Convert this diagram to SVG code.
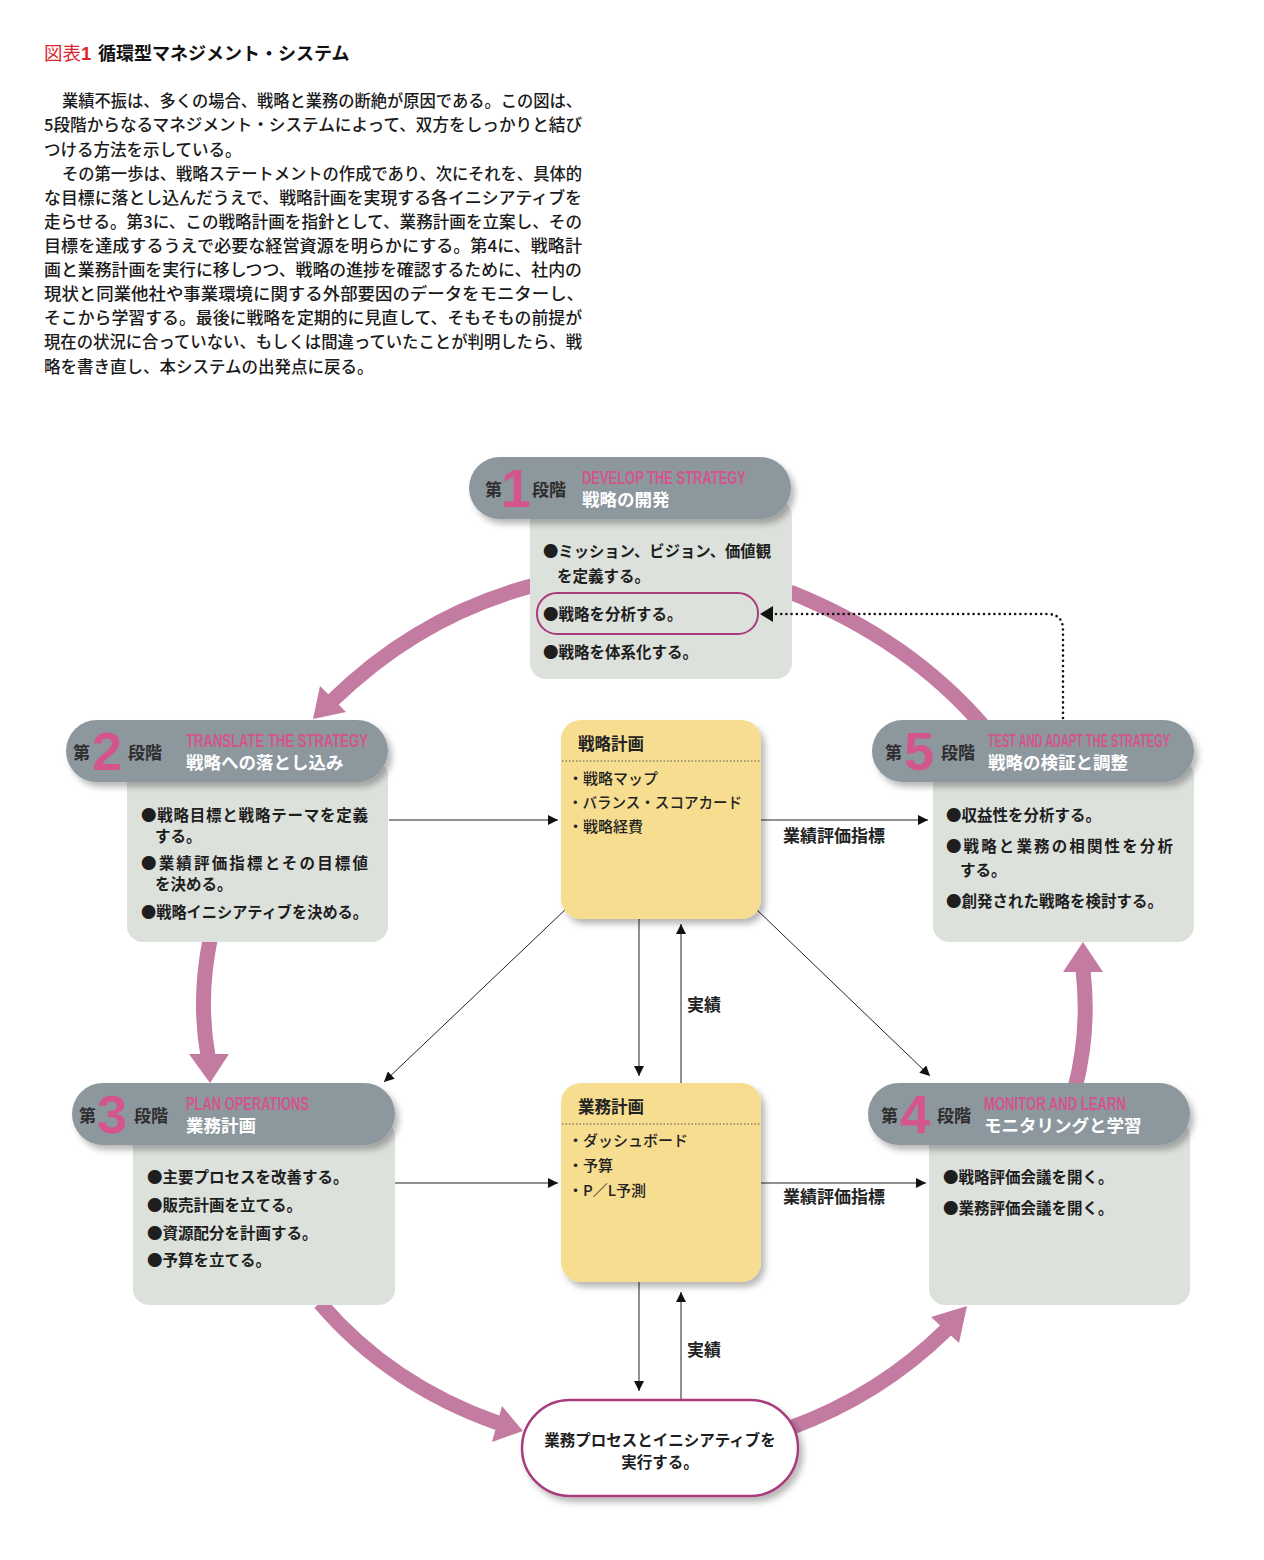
<svg xmlns="http://www.w3.org/2000/svg" width="1264" height="1560" viewBox="0 0 1264 1560">
<defs>
<filter id="sh" x="-10%" y="-15%" width="125%" height="150%"><feDropShadow dx="4" dy="5" stdDeviation="3" flood-color="#000" flood-opacity="0.28"/></filter>
<marker id="ah" viewBox="0 0 10 10" refX="10" refY="5" markerWidth="11" markerHeight="10" markerUnits="userSpaceOnUse" orient="auto"><path d="M0,0 L10,5 L0,10 z" fill="#111"/></marker>
<style>
text{font-family:"Noto Sans CJK JP","Liberation Sans",sans-serif}
.para{font-size:16.5px;font-weight:500;fill:#1a1a1a}
.hdr{fill:#8d979e;filter:url(#sh)}
.body{fill:#dde1dc}
.dai{font-size:17px;font-weight:bold;fill:#2e2e2e}
.num{font-family:"Liberation Sans",Arial,sans-serif;font-size:54px;font-weight:bold;fill:#d4558c}
.en{font-family:"Liberation Sans",Arial,sans-serif;font-size:17.5px;font-weight:bold;fill:#d4558c}
.jp{font-size:17.5px;font-weight:bold;fill:#ffffff}
.bt{font-size:15.5px;font-weight:bold;fill:#1e1e1e}
.ybox{fill:#f6dd8f;filter:url(#sh)}
.yt{font-size:16.5px;font-weight:bold;fill:#222}
.yi{font-size:15px;font-weight:500;fill:#222}
.lbl{font-size:17px;font-weight:bold;fill:#222}
.ln{stroke:#222;stroke-width:1;fill:none}
.arc{stroke:#c47ba2;stroke-width:15;fill:none}
.head{fill:#c47ba2}
</style>
</defs>
<rect width="1264" height="1560" fill="#ffffff"/>

<g id="title">
<text x="44" y="60" font-size="18.5" fill="#d8262e">図表<tspan font-weight="bold" font-family="Liberation Sans, sans-serif">1</tspan></text>
<text x="98" y="60" font-size="18" font-weight="bold" fill="#111">循環型マネジメント・システム</text>
</g>

<g id="paragraph">
<text class="para" x="62" y="107" textLength="520" lengthAdjust="spacingAndGlyphs">業績不振は、多くの場合、戦略と業務の断絶が原因である。この図は、</text>
<text class="para" x="44" y="131" textLength="538" lengthAdjust="spacingAndGlyphs">5段階からなるマネジメント・システムによって、双方をしっかりと結び</text>
<text class="para" x="44" y="156">つける方法を示している。</text>
<text class="para" x="62" y="180" textLength="520" lengthAdjust="spacingAndGlyphs">その第一歩は、戦略ステートメントの作成であり、次にそれを、具体的</text>
<text class="para" x="44" y="204" textLength="538" lengthAdjust="spacingAndGlyphs">な目標に落とし込んだうえで、戦略計画を実現する各イニシアティブを</text>
<text class="para" x="44" y="228" textLength="538" lengthAdjust="spacingAndGlyphs">走らせる。第3に、この戦略計画を指針として、業務計画を立案し、その</text>
<text class="para" x="44" y="252" textLength="538" lengthAdjust="spacingAndGlyphs">目標を達成するうえで必要な経営資源を明らかにする。第4に、戦略計</text>
<text class="para" x="44" y="276" textLength="538" lengthAdjust="spacingAndGlyphs">画と業務計画を実行に移しつつ、戦略の進捗を確認するために、社内の</text>
<text class="para" x="44" y="300" textLength="540" lengthAdjust="spacingAndGlyphs">現状と同業他社や事業環境に関する外部要因のデータをモニターし、</text>
<text class="para" x="44" y="324" textLength="538" lengthAdjust="spacingAndGlyphs">そこから学習する。最後に戦略を定期的に見直して、そもそもの前提が</text>
<text class="para" x="44" y="348" textLength="538" lengthAdjust="spacingAndGlyphs">現在の状況に合っていない、もしくは間違っていたことが判明したら、戦</text>
<text class="para" x="44" y="373">略を書き直し、本システムの出発点に戻る。</text>
</g>

<g id="cycle-arrows">
<path class="arc" d="M 535 585 Q 420 615 333 700"/>
<polygon class="head" points="313,719 346,712 320,686"/>
<path class="arc" d="M 985 728 Q 910 640 790 592"/>
<path class="arc" d="M 210 940 Q 198 1000 208 1056"/>
<polygon class="head" points="189,1054 229,1054 210,1083"/>
<path class="arc" d="M 320 1303 Q 390 1385 498 1423"/>
<polygon class="head" points="523,1431 492,1442 502,1406"/>
<path class="arc" d="M 790 1428 Q 880 1395 946 1330"/>
<polygon class="head" points="967,1306 959,1343 931,1317"/>
<path class="arc" d="M 1075 1088 Q 1090 1030 1083 970"/>
<polygon class="head" points="1063,972 1103,972 1083,942"/>
</g>

<g id="connectors">
<line class="ln" x1="389" y1="820" x2="558" y2="820" marker-end="url(#ah)"/>
<line class="ln" x1="761" y1="820" x2="928" y2="820" marker-end="url(#ah)"/>
<line class="ln" x1="395" y1="1183" x2="558" y2="1183" marker-end="url(#ah)"/>
<line class="ln" x1="761" y1="1183" x2="926" y2="1183" marker-end="url(#ah)"/>
<line class="ln" x1="639" y1="915" x2="639" y2="1076" marker-end="url(#ah)"/>
<line class="ln" x1="681" y1="1084" x2="681" y2="924" marker-end="url(#ah)"/>
<line class="ln" x1="639" y1="1280" x2="639" y2="1391" marker-end="url(#ah)"/>
<line class="ln" x1="681" y1="1402" x2="681" y2="1292" marker-end="url(#ah)"/>
<line class="ln" x1="567" y1="908" x2="384" y2="1082" marker-end="url(#ah)"/>
<line class="ln" x1="755" y1="908" x2="930" y2="1076" marker-end="url(#ah)"/>
<text class="lbl" x="783" y="842">業績評価指標</text>
<text class="lbl" x="783" y="1203">業績評価指標</text>
<text class="lbl" x="687" y="1011">実績</text>
<text class="lbl" x="687" y="1356">実績</text>
</g>

<g id="stage1">
<rect class="body" x="530" y="500" width="262" height="179" rx="16"/>
<rect class="hdr" x="469" y="457" width="322" height="62" rx="31"/>
<text class="dai" x="485" y="496">第</text>
<text class="num" x="501" y="507">1</text>
<text class="dai" x="532" y="496">段階</text>
<text class="en" x="582" y="484" textLength="164" lengthAdjust="spacingAndGlyphs">DEVELOP THE STRATEGY</text>
<text class="jp" x="582" y="506">戦略の開発</text>
<rect x="537" y="593" width="221" height="41" rx="20" fill="none" stroke="#a83a7d" stroke-width="2"/>
<text class="bt" x="543" y="557" textLength="228" lengthAdjust="spacingAndGlyphs">●ミッション、ビジョン、価値観</text>
<text class="bt" x="557" y="582">を定義する。</text>
<text class="bt" x="543" y="620">●戦略を分析する。</text>
<text class="bt" x="543" y="658">●戦略を体系化する。</text>
</g>

<g id="stage2">
<rect class="body" x="127" y="760" width="261" height="182" rx="16"/>
<rect class="hdr" x="66" y="720" width="322" height="62" rx="31"/>
<text class="dai" x="73" y="759">第</text>
<text class="num" x="92" y="770">2</text>
<text class="dai" x="128" y="759">段階</text>
<text class="en" x="186" y="747" textLength="182" lengthAdjust="spacingAndGlyphs">TRANSLATE THE STRATEGY</text>
<text class="jp" x="186" y="769">戦略への落とし込み</text>
<text class="bt" x="141" y="821" textLength="227" lengthAdjust="spacing">●戦略目標と戦略テーマを定義</text>
<text class="bt" x="155" y="842">する。</text>
<text class="bt" x="141" y="869" textLength="227" lengthAdjust="spacing">●業績評価指標とその目標値</text>
<text class="bt" x="155" y="890">を決める。</text>
<text class="bt" x="141" y="918" textLength="227" lengthAdjust="spacingAndGlyphs">●戦略イニシアティブを決める。</text>
</g>

<g id="stage5">
<rect class="body" x="933" y="760" width="261" height="182" rx="16"/>
<rect class="hdr" x="872" y="720" width="322" height="62" rx="31"/>
<text class="dai" x="885" y="759">第</text>
<text class="num" x="904" y="770">5</text>
<text class="dai" x="941" y="759">段階</text>
<text class="en" x="988" y="747" textLength="182" lengthAdjust="spacingAndGlyphs">TEST AND ADAPT THE STRATEGY</text>
<text class="jp" x="988" y="769">戦略の検証と調整</text>
<text class="bt" x="946" y="821">●収益性を分析する。</text>
<text class="bt" x="946" y="852" textLength="227" lengthAdjust="spacing">●戦略と業務の相関性を分析</text>
<text class="bt" x="960" y="876">する。</text>
<text class="bt" x="946" y="907">●創発された戦略を検討する。</text>
</g>

<g id="stage3">
<rect class="body" x="133" y="1120" width="262" height="185" rx="16"/>
<rect class="hdr" x="72" y="1083" width="323" height="62" rx="31"/>
<text class="dai" x="79" y="1122">第</text>
<text class="num" x="97" y="1133">3</text>
<text class="dai" x="134" y="1122">段階</text>
<text class="en" x="186" y="1110" textLength="123" lengthAdjust="spacingAndGlyphs">PLAN OPERATIONS</text>
<text class="jp" x="186" y="1132">業務計画</text>
<text class="bt" x="147" y="1183">●主要プロセスを改善する。</text>
<text class="bt" x="147" y="1211">●販売計画を立てる。</text>
<text class="bt" x="147" y="1239">●資源配分を計画する。</text>
<text class="bt" x="147" y="1266">●予算を立てる。</text>
</g>

<g id="stage4">
<rect class="body" x="929" y="1120" width="261" height="185" rx="16"/>
<rect class="hdr" x="868" y="1083" width="322" height="62" rx="31"/>
<text class="dai" x="881" y="1122">第</text>
<text class="num" x="900" y="1133">4</text>
<text class="dai" x="937" y="1122">段階</text>
<text class="en" x="984" y="1110" textLength="142" lengthAdjust="spacingAndGlyphs">MONITOR AND LEARN</text>
<text class="jp" x="984" y="1132">モニタリングと学習</text>
<text class="bt" x="943" y="1183">●戦略評価会議を開く。</text>
<text class="bt" x="943" y="1214">●業務評価会議を開く。</text>
</g>

<g id="strategy-plan">
<rect class="ybox" x="561" y="720" width="200" height="199" rx="20"/>
<text class="yt" x="578" y="750">戦略計画</text>
<line x1="562" y1="761" x2="760" y2="761" stroke="#555" stroke-width="1" stroke-dasharray="1.5 2"/>
<text class="yi" x="568" y="784">・戦略マップ</text>
<text class="yi" x="568" y="808" textLength="174" lengthAdjust="spacingAndGlyphs">・バランス・スコアカード</text>
<text class="yi" x="568" y="832">・戦略経費</text>
</g>

<g id="operations-plan">
<rect class="ybox" x="561" y="1083" width="200" height="199" rx="20"/>
<text class="yt" x="578" y="1113">業務計画</text>
<line x1="562" y1="1124" x2="760" y2="1124" stroke="#555" stroke-width="1" stroke-dasharray="1.5 2"/>
<text class="yi" x="568" y="1146">・ダッシュボード</text>
<text class="yi" x="568" y="1171">・予算</text>
<text class="yi" x="568" y="1196">・P／L予測</text>
</g>

<g id="execute">
<rect x="522" y="1400" width="276" height="96" rx="48" fill="#ffffff" stroke="#a83a7d" stroke-width="2.5" filter="url(#sh)"/>
<text class="bt" x="660" y="1446" text-anchor="middle" font-size="16">業務プロセスとイニシアティブを</text>
<text class="bt" x="660" y="1468" text-anchor="middle" font-size="16">実行する。</text>
</g>

<g id="feedback-connector">
<path d="M 1063 718 L 1063 630 Q 1063 614 1047 614 L 775 614" fill="none" stroke="#111" stroke-width="2.6" stroke-linecap="round" stroke-dasharray="0 5.2"/>
<polygon points="760,614 773,606 773,622" fill="#111"/>
</g>
</svg>
